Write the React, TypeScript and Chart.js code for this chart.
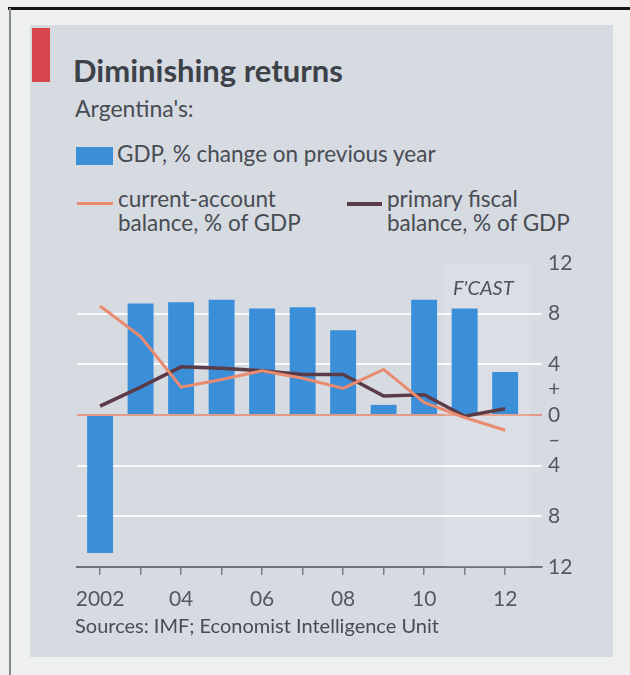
import React, { useEffect, useRef } from "react";
import { Chart, registerables } from "chart.js";

Chart.register(...registerables);

const years = [2002, 2003, 2004, 2005, 2006, 2007, 2008, 2009, 2010, 2011, 2012];
const yearLabels = ["2002", "", "04", "", "06", "", "08", "", "10", "", "12"];
const gdpGrowth = [-10.9, 8.8, 8.9, 9.1, 8.4, 8.5, 6.7, 0.8, 9.1, 8.4, 3.4];
const currentAccount = [8.6, 6.2, 2.2, 2.8, 3.5, 2.9, 2.1, 3.6, 1.0, -0.2, -1.2];
const primaryFiscal = [0.7, 2.2, 3.8, 3.7, 3.5, 3.2, 3.2, 1.5, 1.6, -0.1, 0.5];
const yTicks = [12, 10, 8, 6, 4, 2, 0, -2, -4, -6, -8, -10, -12];
const yTickLabels = ["12", "", "8", "", "4", "+", "0", "\u2013", "4", "", "8", "", "12"];
const forecastStart = 2010.5;
const forecastEnd = 2012.6;

const FONT = "Lato, 'Noto Sans', sans-serif";
const TEXT = "#484c53";

const forecastPlugin = {
  id: "forecastShade",
  beforeDatasetsDraw(chart: any) {
    const { ctx, chartArea, scales } = chart;
    const x0 = scales.x.getPixelForValue(forecastStart);
    const x1 = scales.x.getPixelForValue(forecastEnd);
    ctx.save();
    ctx.fillStyle = "rgba(255,255,255,0.12)";
    ctx.fillRect(x0, chartArea.top, x1 - x0, chartArea.bottom - chartArea.top);
    ctx.restore();
  },
};

function ChartCanvas() {
  const ref = useRef<HTMLCanvasElement>(null);
  useEffect(() => {
    if (!ref.current) return;
    const chart = new Chart(ref.current, {
      type: "bar",
      data: {
        datasets: [
          {
            type: "line",
            label: "primary fiscal balance, % of GDP",
            data: years.map((x, i) => ({ x, y: primaryFiscal[i] })),
            borderColor: "#5a3b47",
            borderWidth: 3.5,
            pointRadius: 0,
            tension: 0,
            order: 1,
          } as any,
          {
            type: "line",
            label: "current-account balance, % of GDP",
            data: years.map((x, i) => ({ x, y: currentAccount[i] })),
            borderColor: "#ea8a6e",
            borderWidth: 3,
            pointRadius: 0,
            tension: 0,
            order: 0,
          } as any,
          {
            type: "bar",
            label: "GDP, % change on previous year",
            data: years.map((x, i) => ({ x, y: gdpGrowth[i] })),
            backgroundColor: "#3b8fd9",
            barPercentage: 0.8,
            categoryPercentage: 0.8,
            order: 2,
          } as any,
        ],
      },
      options: {
        animation: false,
        responsive: false,
        maintainAspectRatio: false,
        layout: { padding: { left: 47, top: 23, right: 21, bottom: 28 } },
        plugins: { legend: { display: false }, tooltip: { enabled: false } },
        scales: {
          x: {
            type: "linear",
            min: 2001.43,
            max: 2012.91,
            offset: false,
            afterBuildTicks: (s: any) => {
              s.ticks = years.map((v) => ({ value: v }));
            },
            afterFit: (s: any) => {
              s.height = 45;
            },
            grid: {
              display: true,
              offset: false,
              drawOnChartArea: false,
              drawTicks: true,
              tickLength: 8,
              color: "#7a7e84",
              lineWidth: 1.5,
            },
            border: { display: true, color: "#6f7378", width: 2 },
            ticks: {
              autoSkip: false,
              maxRotation: 0,
              padding: 12,
              color: "#55595f",
              font: { family: FONT, size: 21 },
              callback: (v: any) => {
                const i = years.indexOf(Number(v));
                return i >= 0 ? yearLabels[i] : "";
              },
            },
          },
          y: {
            position: "right",
            min: -12,
            max: 12,
            afterBuildTicks: (s: any) => {
              s.ticks = yTicks.map((v) => ({ value: v }));
            },
            afterFit: (s: any) => {
              s.width = 50;
            },
            border: { display: false },
            grid: {
              drawTicks: false,
              lineWidth: 2,
              color: (c: any) => {
                const v = c.tick ? c.tick.value : null;
                if (v === 0) return "#e39a86";
                if (v === 4 || v === 8 || v === -4 || v === -8) return "rgba(255,255,255,0.85)";
                return "rgba(0,0,0,0)";
              },
            },
            ticks: {
              autoSkip: false,
              padding: 6,
              color: "#55595f",
              font: { family: FONT, size: 21 },
              callback: (v: any) => {
                const i = yTicks.indexOf(Number(v));
                return i >= 0 ? yTickLabels[i] : "";
              },
            },
          },
        },
      },
      plugins: [forecastPlugin],
    });
    return () => chart.destroy();
  }, []);
  return (
    <canvas
      ref={ref}
      width={583}
      height={400}
      style={{ position: "absolute", left: 30, top: 240, width: 583, height: 400 }}
    />
  );
}

const abs = (l: number, t: number, extra: any = {}) => ({
  position: "absolute" as const,
  left: l,
  top: t,
  whiteSpace: "nowrap" as const,
  fontFamily: FONT,
  color: TEXT,
  ...extra,
});

export default function App() {
  return (
    <div
      style={{
        position: "absolute",
        left: 0,
        top: 0,
        width: 630,
        height: 675,
        background: "#eef0ef",
        overflow: "hidden",
      }}
    >
      <div style={{ position: "absolute", left: 8, top: 7, width: 622, height: 3, background: "#151515" }} />
      <div style={{ position: "absolute", left: 9, top: 8, width: 2, height: 667, background: "#85888c" }} />
      <div style={{ position: "absolute", left: 30, top: 25, width: 583, height: 632, background: "#d6dae1" }} />
      <div style={{ position: "absolute", left: 32, top: 28, width: 18, height: 54, background: "#d9454c" }} />
      <div style={abs(73, 55, { fontSize: 31, fontWeight: 700, lineHeight: "31px", color: "#3d4148" })}>
        Diminishing returns
      </div>
      <div style={abs(75, 97, { fontSize: 23, lineHeight: "23px" })}>Argentina's:</div>
      <div style={{ position: "absolute", left: 76, top: 147, width: 37, height: 18, background: "#3b8fd9" }} />
      <div style={abs(117, 143, { fontSize: 22.5, lineHeight: "22px" })}>GDP, % change on previous year</div>
      <div style={{ position: "absolute", left: 77, top: 202, width: 36, height: 3, background: "#ea8a6e" }} />
      <div style={abs(118, 187, { fontSize: 22.5, lineHeight: "24px" })}>
        current-account
        <br />
        balance, % of GDP
      </div>
      <div style={{ position: "absolute", left: 347, top: 202, width: 35, height: 4, background: "#5a3b47" }} />
      <div style={abs(387, 187, { fontSize: 22.5, lineHeight: "24px" })}>
        primary fiscal
        <br />
        balance, % of GDP
      </div>
      <ChartCanvas />
      <div style={abs(453, 277, { fontSize: 20, lineHeight: "20px", fontStyle: "italic", color: "#4a5260" })}>
        F'CAST
      </div>
      <div style={abs(75, 615, { fontSize: 20, lineHeight: "20px" })}>Sources: IMF; Economist Intelligence Unit</div>
    </div>
  );
}
